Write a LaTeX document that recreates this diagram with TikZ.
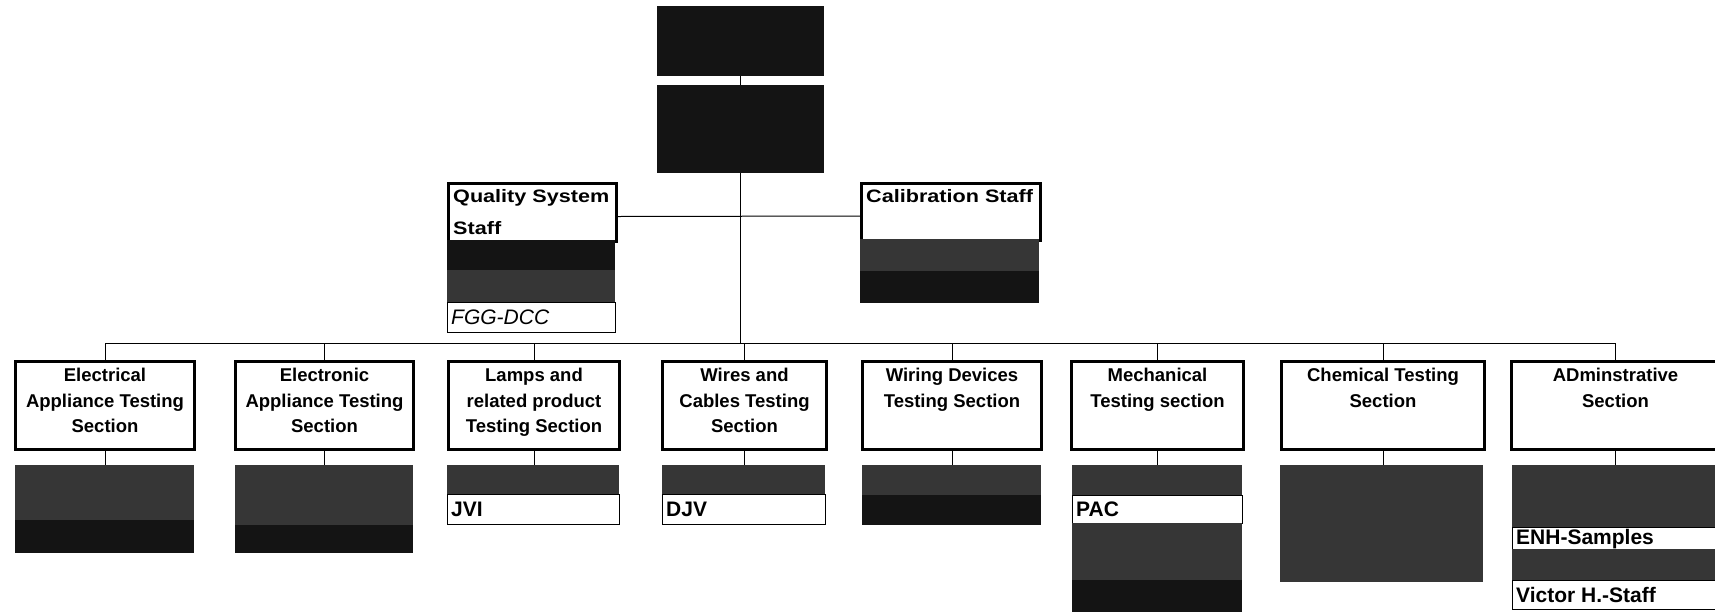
\documentclass[tikz,border=0pt]{standalone}
\usepackage{fontspec}
\setmainfont{Liberation Sans}
\newfontfamily\widesans[FakeStretch=1.2]{Liberation Sans}
\usepackage{xcolor}

\colorlet{noisegray}{black!79}
\colorlet{inkblack}{black!92}

\tikzset{
  section/.style={draw, line width=3pt, fill=white, inner sep=0pt, minimum height=88pt, anchor=north west},
  sectext/.style={anchor=north, align=center, inner sep=0pt, yshift=-8pt, font=\bfseries\fontsize{18.5}{25.5}\selectfont},
  toptext/.style={anchor=north west, align=left, inner sep=0pt, xshift=6pt, yshift=-7pt, font=\widesans\bfseries\fontsize{18}{32}\selectfont},
  redact/.style={fill=noisegray, inner sep=0pt, anchor=north west},
  redact lower/.style={redact, path picture={\fill[inkblack] ([yshift=#1]path picture bounding box.south west) rectangle (path picture bounding box.south east);}},
  redact upper/.style={redact, path picture={\fill[inkblack] ([yshift=-#1]path picture bounding box.north west) rectangle (path picture bounding box.north east);}},
  namebox/.style={draw, line width=1.2pt, fill=white, inner sep=0pt, anchor=north west},
  nametext/.style={anchor=west, inner sep=4pt, font=\bfseries\fontsize{21}{24}\selectfont},
  link/.style={line width=1pt}
}

\begin{document}
\begin{tikzpicture}[x=1pt,y=-1pt]
\useasboundingbox (0,0) rectangle (1715,611);
\clip (0,0) rectangle (1715,611);

% head of the laboratory
\node[redact, fill=inkblack, minimum width=167pt, minimum height=70pt] (head1) at (657,6) {};
\node[redact, fill=inkblack, minimum width=167pt, minimum height=88pt] (head2) at (657,85) {};

% staff units
\node[section, minimum width=168pt, minimum height=58pt, label={[toptext]north west:{Quality System\\Staff}}] (qss) at (447,182) {};
\node[redact upper=30pt, minimum width=168pt, minimum height=62pt] (qss-r) at (447,240) {};
\node[namebox, minimum width=168pt, minimum height=30pt, label={[nametext, font=\itshape\fontsize{21}{24}\selectfont]west:FGG-DCC}] (fgg) at (447,302) {};

\node[section, minimum width=179pt, minimum height=57pt, label={[toptext]north west:{Calibration Staff}}] (cal) at (860,182) {};
\node[redact lower=32pt, minimum width=179pt, minimum height=64pt] (cal-r) at (860,239) {};

% sections
\coordinate (bus) at (0,343);
\node[section, minimum width=179pt, label={[sectext]north:{Electrical\\Appliance Testing\\Section}}] (elec) at (14,360) {};
\node[section, minimum width=178pt, label={[sectext]north:{Electronic\\Appliance Testing\\Section}}] (elecn) at (234,360) {};
\node[section, minimum width=171pt, label={[sectext]north:{Lamps and\\related product\\Testing Section}}] (lamps) at (447,360) {};
\node[section, minimum width=164pt, label={[sectext]north:{Wires and\\Cables Testing\\Section}}] (wires) at (661,360) {};
\node[section, minimum width=179pt, label={[sectext]north:{Wiring Devices\\Testing Section}}] (wiring) at (861,360) {};
\node[section, minimum width=172pt, label={[sectext]north:{Mechanical\\Testing section}}] (mech) at (1070,360) {};
\node[section, minimum width=203pt, label={[sectext]north:{Chemical Testing\\Section}}] (chem) at (1280,360) {};
\node[section, minimum width=208pt, label={[sectext]north:{ADminstrative\\Section}}] (admin) at (1510,360) {};

% people under each section
\node[redact lower=33pt, minimum width=179pt, minimum height=88pt] (elec-r) at (15,465) {};
\node[redact lower=28pt, minimum width=178pt, minimum height=88pt] (elecn-r) at (235,465) {};
\node[redact, minimum width=172pt, minimum height=29pt] (lamps-r) at (447,465) {};
\node[namebox, minimum width=172pt, minimum height=30pt, label={[nametext]west:JVI}] (jvi) at (447,494) {};
\node[redact, minimum width=163pt, minimum height=29pt] (wires-r) at (662,465) {};
\node[namebox, minimum width=163pt, minimum height=30pt, label={[nametext]west:DJV}] (djv) at (662,494) {};
\node[redact lower=30pt, minimum width=179pt, minimum height=60pt] (wiring-r) at (862,465) {};
\node[redact, minimum width=170pt, minimum height=30pt] (mech-r) at (1072,465) {};
\node[namebox, minimum width=170pt, minimum height=28pt, label={[nametext]west:PAC}] (pac) at (1072,495) {};
\node[redact lower=33pt, minimum width=170pt, minimum height=90pt] (mech-r2) at (1072,523) {};
\node[redact, minimum width=203pt, minimum height=117pt] (chem-r) at (1280,465) {};
\node[redact, minimum width=206pt, minimum height=62pt] (admin-r) at (1512,465) {};
\node[namebox, minimum width=206pt, minimum height=22pt, label={[nametext]west:ENH-Samples}] (enh) at (1512,527) {};
\node[redact, minimum width=206pt, minimum height=31pt] (admin-r2) at (1512,549) {};
\node[namebox, minimum width=206pt, minimum height=29pt, label={[nametext]west:Victor H.-Staff}] (victor) at (1512,580) {};

% connectors
\draw[link] (head1) -- (head2);
\draw[link] (head2.south) -- (head2.south |- bus);
\draw[link] ([yshift=-4pt]qss.east) -- ([yshift=-4pt]cal.west);
\draw[link] (elec.north |- bus) -- (admin.north |- bus);
\foreach \s in {elec,elecn,lamps,wires,wiring,mech,chem,admin}{
  \draw[link] (\s.north) -- (\s.north |- bus);
  \draw[link] (\s.south) -- (\s.south |- \s-r.north);
}
\end{tikzpicture}
\end{document}
